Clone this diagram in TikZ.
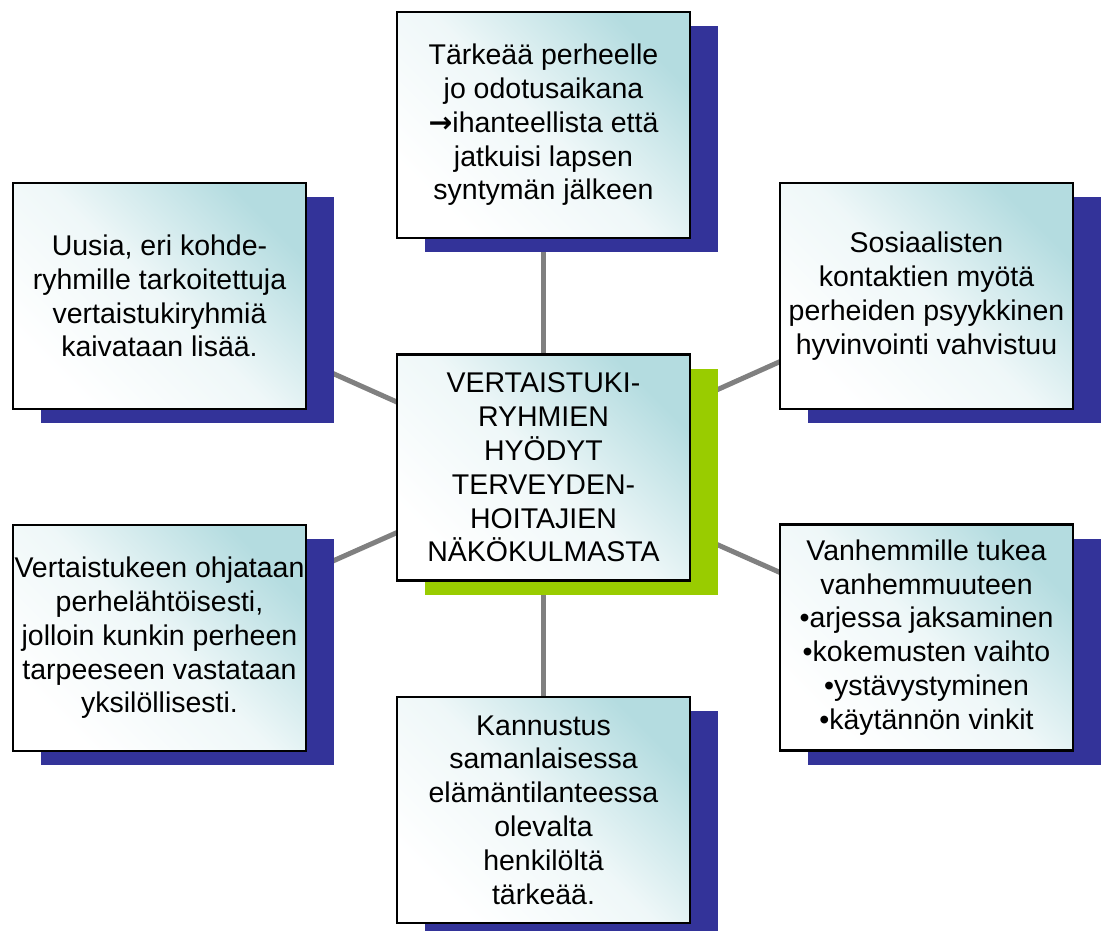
\documentclass[tikz,border=0pt]{standalone}
\usepackage{fontspec}
\setmainfont{Liberation Sans}
\newfontfamily\arrowfont{DejaVu Sans}
\usetikzlibrary{shadows, backgrounds}
\definecolor{inkteal}{HTML}{B4DCE0}
\definecolor{inknavy}{HTML}{333399}
\definecolor{inklime}{HTML}{99CC00}
\definecolor{inkgrey}{HTML}{808080}
\newcommand{\ideabox}[4]{%
  \node[draw=black, line width=2.5pt, top color=inkteal, bottom color=white,
        middle color=inkteal!22, shading angle=-45,
        minimum width=293pt, minimum height=226pt, inner sep=0pt,
        align=center, text=black,
        drop shadow={shadow xshift=28pt, shadow yshift=-14pt,
                     opacity=1, fill=#3}]
        (#1) at (#2) {#4};}

\begin{document}
\begin{tikzpicture}[x=1pt, y=-1pt, font=\fontsize{28.5}{33.8}\selectfont]
  \useasboundingbox (0,0) rectangle (1101,931);
  \ideabox{hub}{543.5,467.5}{inklime}{VERTAISTUKI-\\RYHMIEN\\HYÖDYT\\TERVEYDEN-\\HOITAJIEN\\NÄKÖKULMASTA}
  \ideabox{wait}{543.5,125}{inknavy}{Tärkeää perheelle\\jo odotusaikana\\{\arrowfont\bfseries →}ihanteellista että\\jatkuisi lapsen\\syntymän jälkeen}
  \ideabox{more}{159.5,296}{inknavy}{Uusia, eri kohde-\\ryhmille tarkoitettuja\\vertaistukiryhmiä\\kaivataan lisää.}
  \ideabox{guide}{159.5,638}{inknavy}{Vertaistukeen ohjataan\\perhelähtöisesti,\\jolloin kunkin perheen\\tarpeeseen vastataan\\yksilöllisesti.}
  \ideabox{social}{926.5,296}{inknavy}{Sosiaalisten\\kontaktien myötä\\perheiden psyykkinen\\hyvinvointi vahvistuu}
  \ideabox{parents}{926.5,637.5}{inknavy}{Vanhemmille tukea\\vanhemmuuteen\\•arjessa jaksaminen\\•kokemusten vaihto\\•ystävystyminen\\•käytännön vinkit}
  \ideabox{cheer}{543.5,810}{inknavy}{Kannustus\\samanlaisessa\\elämäntilanteessa\\olevalta\\henkilöltä\\tärkeää.}
  \begin{scope}[on background layer]
    \foreach \leaf in {wait, more, guide, social, parents, cheer}
      \draw[inkgrey, line width=5pt] (hub.center) -- (\leaf.center);
  \end{scope}
\end{tikzpicture}
\end{document}
